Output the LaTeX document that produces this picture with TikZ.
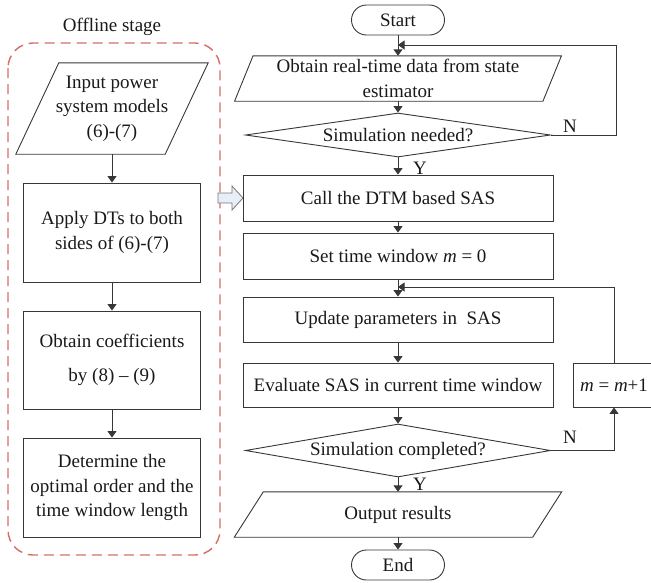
\documentclass[tikz,border=0pt]{standalone}
\usepackage{fontspec}
\setmainfont{Liberation Serif}
\usetikzlibrary{arrows.meta,shapes.geometric}
\definecolor{lnc}{RGB}{55,55,55}
\definecolor{dashred}{RGB}{212,110,100}
\definecolor{blkfill}{RGB}{232,238,248}
\definecolor{blkdraw}{RGB}{120,120,120}
\newcommand{\myfs}{\fontsize{19}{24.5}\selectfont}
\begin{document}
\begin{tikzpicture}[x=1pt,y=-1pt,
  every node/.style={font=\myfs, text=black!90},
  box/.style={draw=lnc, line width=0.9pt, rectangle, inner sep=0pt, align=center},
  pbox/.style={rectangle, inner sep=0pt, align=center},
  term/.style={draw=lnc, line width=0.9pt, rectangle, rounded corners=15pt, inner sep=0pt},
  dec/.style={draw=lnc, line width=0.9pt, diamond, aspect=7, inner sep=0pt},
  para/.style={draw=lnc, line width=0.9pt},
  arr/.style={draw=lnc, line width=0.9pt, -{Triangle[length=6.5pt,width=9pt]}},
  offbox/.style={draw=dashred, line width=1.4pt, dash pattern=on 10pt off 6pt, rounded corners=25pt}
]
\useasboundingbox (0,0) rectangle (651,582);

% ---------- Offline stage ----------
\node (off) at (112,27) {Offline stage};
\draw[offbox] (8,43) rectangle (220,555);

\node[pbox, minimum width=149pt, minimum height=91pt] (inp) at (112,108.5) {Input power\\system models\\(6)-(7)};
\draw[para] ([xshift=-21.5pt]inp.south west) -- ([xshift=-21.5pt]inp.south east) -- ([xshift=21.5pt]inp.north east) -- ([xshift=21.5pt]inp.north west) -- cycle;

\node[box, minimum width=177pt, minimum height=99pt] (dts) at (112,232.5) {Apply DTs to both\\sides of (6)-(7)};
\node[box, minimum width=177pt, minimum height=98pt] (coef) at (112,360) {Obtain coefficients\\[10pt]by (8) – (9)};
\node[box, minimum width=177pt, minimum height=99pt] (det) at (112,487.5) {Determine the\\optimal order and the\\time window length};

\draw[arr] (inp) -- (dts);
\draw[arr] (dts) -- (coef);
\draw[arr] (coef) -- (det);

% ---------- block arrow ----------
\draw[blkdraw, fill=blkfill, line width=0.8pt] (218,193) -- (232,193) -- (232,186) -- (243,198) -- (232,210) -- (232,203) -- (218,203) -- cycle;

% ---------- main flow ----------
\node[term, minimum width=93pt, minimum height=30pt] (start) at (398,20) {Start};

\node[pbox, minimum width=308pt, minimum height=45pt] (data) at (398,78.5) {Obtain real-time data from state\\estimator};
\draw[para] ([xshift=-9.25pt]data.south west) -- ([xshift=-9.25pt]data.south east) -- ([xshift=9.25pt]data.north east) -- ([xshift=9.25pt]data.north west) -- cycle;

\node[dec, minimum width=305pt, minimum height=44pt] (need) at (398,135) {Simulation needed?};

\node[box, minimum width=310pt, minimum height=46pt] (call) at (398,198) {Call the DTM based SAS};
\node[box, minimum width=310pt, minimum height=46pt] (setm) at (398,256) {Set time window \textit{m} = 0};
\node[box, minimum width=310pt, minimum height=45pt] (upd) at (398,319.5) {Update parameters in\ \ SAS};
\node[box, minimum width=310pt, minimum height=44pt] (eval) at (398,385) {Evaluate SAS in current time window};
\node[box, minimum width=82pt, minimum height=44pt] (inc) at (614,385) {\textit{m} = \textit{m}+1};

\node[dec, minimum width=305pt, minimum height=53pt] (comp) at (398,450.5) {Simulation completed?};

\node[pbox, minimum width=298pt, minimum height=45pt] (out) at (398,514.5) {Output results};
\draw[para] ([xshift=-14.5pt]out.south west) -- ([xshift=-14.5pt]out.south east) -- ([xshift=14.5pt]out.north east) -- ([xshift=14.5pt]out.north west) -- cycle;

\node[term, minimum width=93pt, minimum height=30pt] (end) at (398,565) {End};

\draw[arr] (start) -- (data);
\draw[arr] (data) -- (need);
\draw[arr] (need) -- (call);
\draw[arr] (call) -- (setm);
\draw[arr] (setm) -- (upd);
\draw[arr] (upd) -- (eval);
\draw[arr] (eval) -- (comp);
\draw[arr] (comp) -- (out);
\draw[arr] (out) -- (end);

% loops
\coordinate (c1) at (616,45);
\coordinate (j1) at (398,45);
\draw[arr] (need.east) -| (c1) -- (j1);
\coordinate (j2) at (398,287);
\draw[arr] (comp.east) -| (inc.south);
\draw[arr] (inc.north) |- (j2);

% labels
\node (n1) at (570,126) {N};
\node (y1) at (420,168) {Y};
\node (n2) at (570,437) {N};
\node (y2) at (420,484) {Y};
\end{tikzpicture}
\end{document}
